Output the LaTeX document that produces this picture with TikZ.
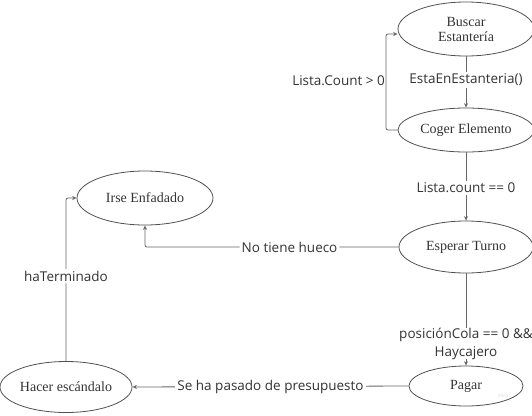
\documentclass[tikz,border=0pt]{standalone}
\usepackage{fontspec}
\setmainfont{Liberation Serif}
\newfontfamily\labelfont{Open Sans}
\usetikzlibrary{shapes.geometric,arrows.meta}
\definecolor{linec}{HTML}{666666}
\definecolor{edgec}{HTML}{505050}
\definecolor{txtc}{HTML}{333333}
\begin{document}
\begin{tikzpicture}[x=1pt,y=-1pt,
  state/.style={ellipse,draw=edgec,line width=0.8pt,inner sep=0pt,text=txtc,font=\fontsize{14}{15}\selectfont,align=center},
  conn/.style={draw=linec,line width=0.8pt,-{Stealth[length=4.5pt,width=4pt]}},
  lbl/.style={fill=white,text=txtc,font=\labelfont\fontsize{13.5}{18}\selectfont,inner sep=2pt,align=center}]
\useasboundingbox (0,0) rectangle (532,415);
\node[state,minimum width=136pt,minimum height=54pt] (buscar) at (466,29) {Buscar\\Estantería};
\node[state,minimum width=136pt,minimum height=44pt] (coger) at (466,130) {Coger Elemento};
\node[state,minimum width=136pt,minimum height=54pt] (irse) at (145,198) {Irse Enfadado};
\node[state,minimum width=134pt,minimum height=52pt] (esperar) at (466,247) {Esperar Turno};
\node[state,minimum width=114pt,minimum height=40pt] (pagar) at (466,386) {Pagar};
\node[state,minimum width=132pt,minimum height=51pt] (hacer) at (66,387) {Hacer escándalo};
\coordinate (l1) at (386,130);
\coordinate (l2) at (386,34);
\coordinate (c1) at (irse.south |- esperar.west);
\coordinate (c2) at (hacer.north |- irse.west);
\draw[conn] (buscar.south) -- node[lbl,pos=0.46] (t1) {EstaEnEstanteria()} (coger.north);
\draw[conn,rounded corners=2pt] (coger.west) -- (l1) -- (l2) -- (l2 -| buscar.west);
\node[text=txtc,font=\labelfont\fontsize{13.5}{16}\selectfont,anchor=east,inner sep=1pt] (t2) at (386,81) {Lista.Count > 0};
\draw[conn] (coger.south) -- node[lbl,pos=0.52] (t3) {Lista.count == 0} (esperar.north);
\draw[conn,rounded corners=2pt] (esperar.west) -- node[lbl,pos=0.43] (t4) {No tiene hueco} (c1) -- (irse.south);
\draw[conn] (esperar.south) -- node[lbl,pos=0.76,inner sep=0pt] (t5) {posiciónCola == 0 \&\&\\Haycajero} (pagar.north);
\draw[conn] (pagar.west) -- node[lbl,pos=0.5] (t6) {Se ha pasado de presupuesto} (hacer.east);
\draw[conn,rounded corners=2pt] (hacer.north) -- node[lbl,pos=0.52] (t7) {haTerminado} (c2) -- (irse.west);
\node[text=black!15,font=\labelfont\fontsize{5}{6}\selectfont] (miro) at (503,396) {miro};
\end{tikzpicture}
\end{document}
